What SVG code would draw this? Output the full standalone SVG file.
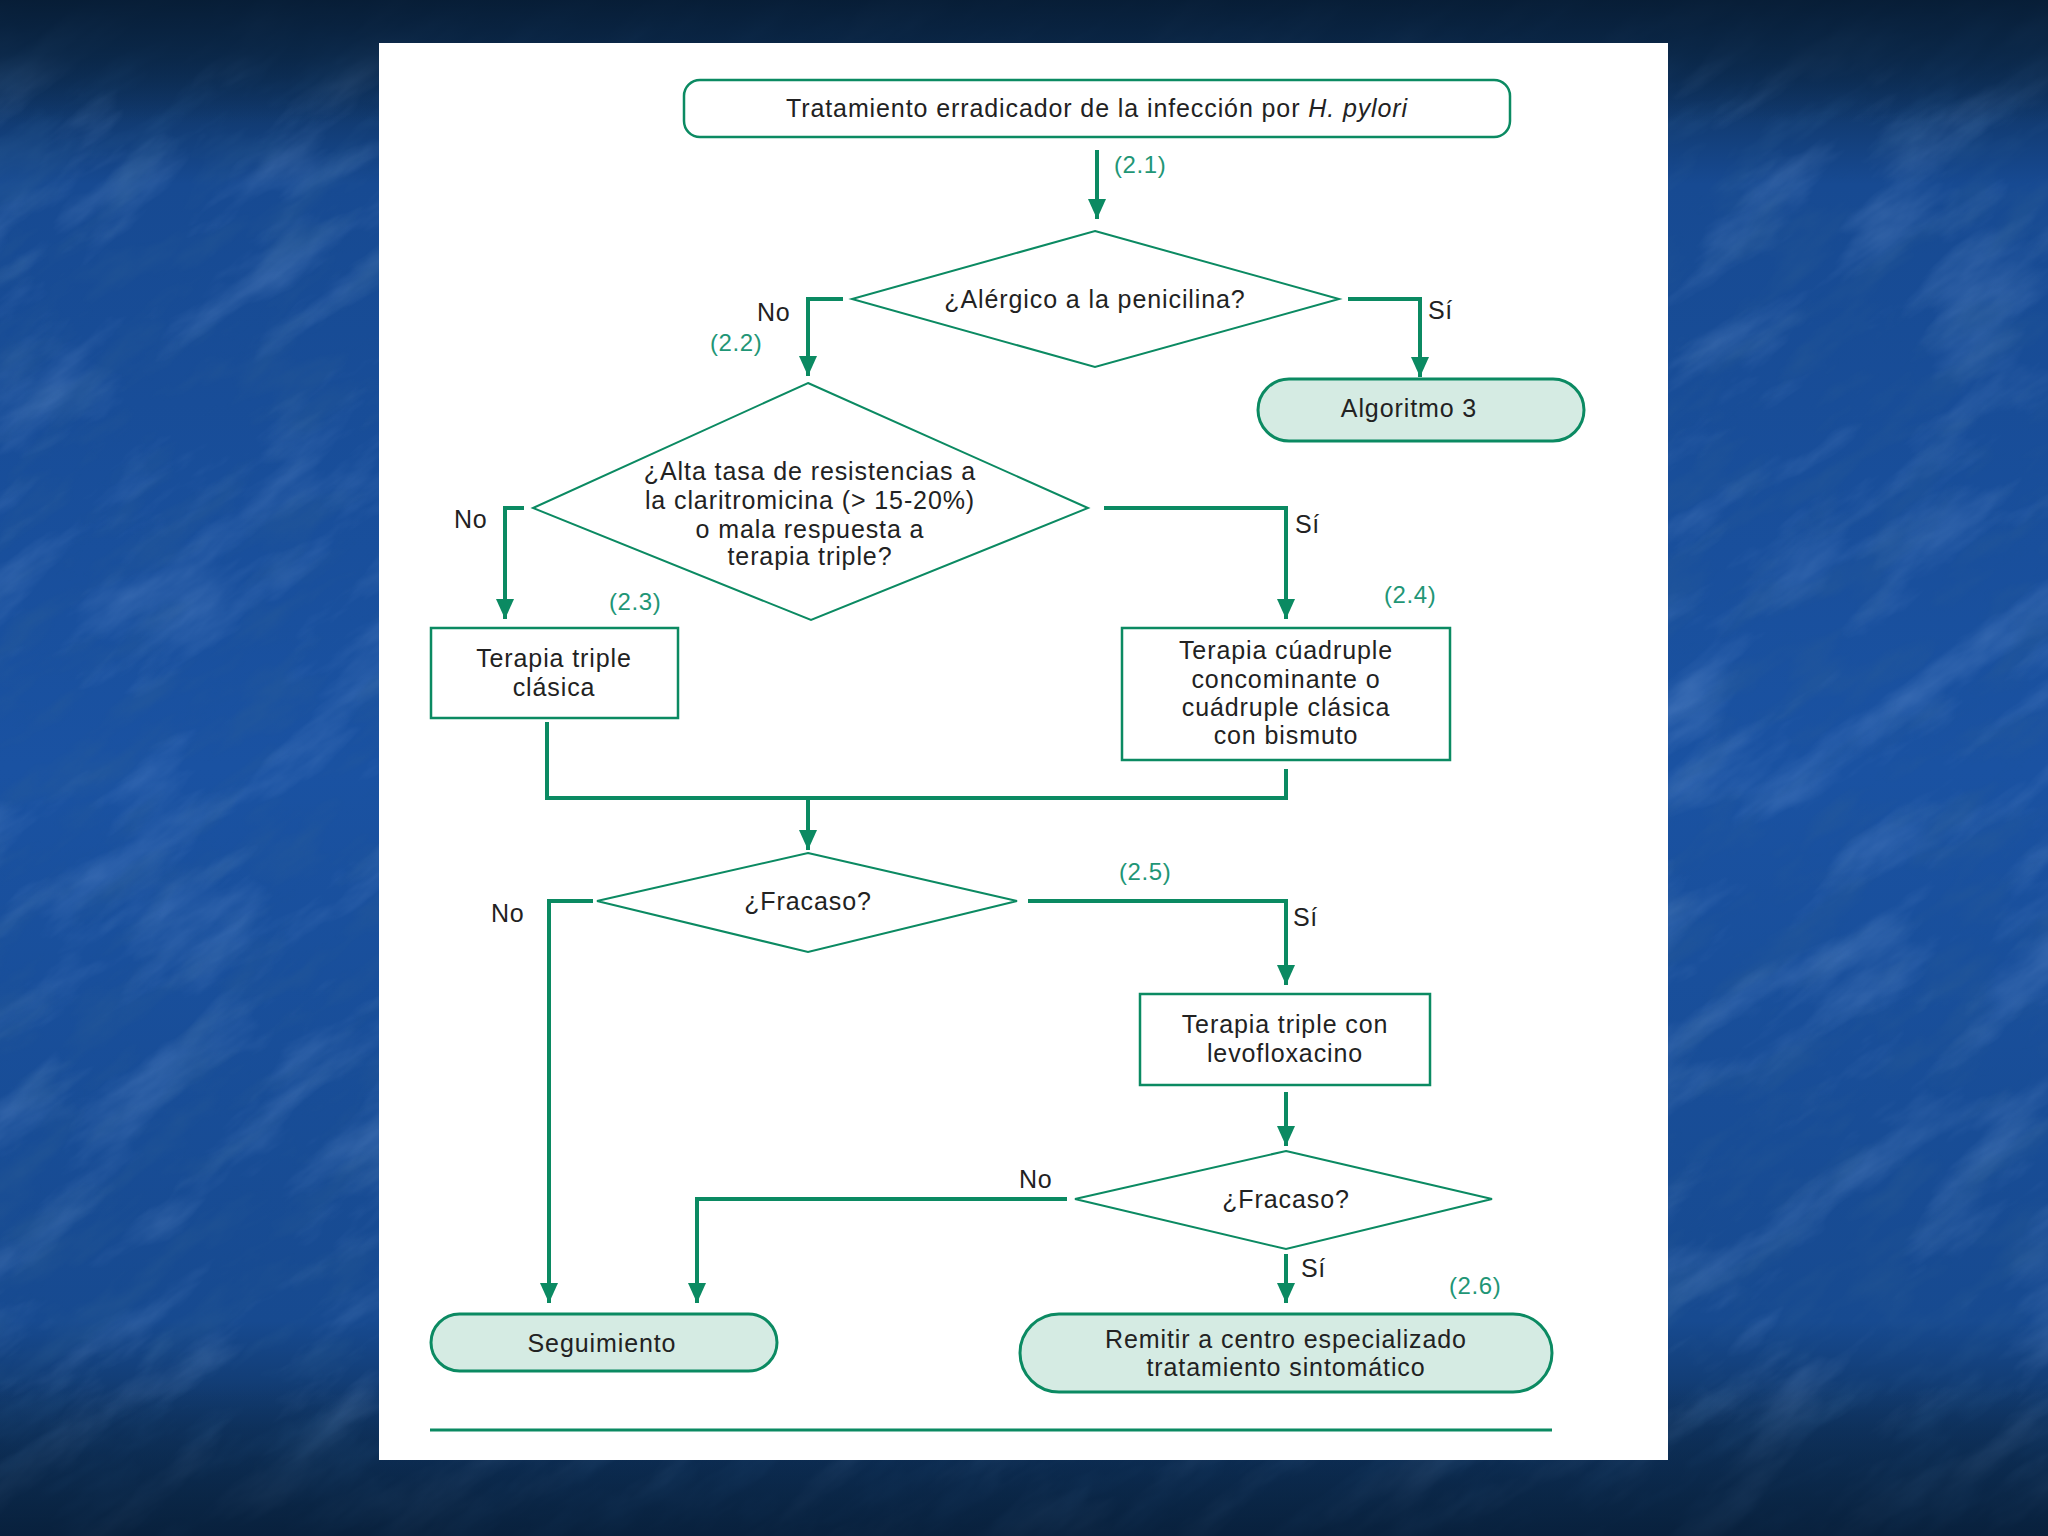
<svg xmlns="http://www.w3.org/2000/svg" width="2048" height="1536" viewBox="0 0 2048 1536">
<defs>
<linearGradient id="bg" x1="0" y1="0" x2="0" y2="1">
<stop offset="0" stop-color="#0a2440"/>
<stop offset="0.035" stop-color="#0c2c52"/>
<stop offset="0.12" stop-color="#174a92"/>
<stop offset="0.5" stop-color="#1a52a2"/>
<stop offset="0.86" stop-color="#174a90"/>
<stop offset="0.93" stop-color="#0f3462"/>
<stop offset="1" stop-color="#0a2646"/>
</linearGradient>
<linearGradient id="shade" x1="0" y1="0" x2="0" y2="1">
<stop offset="0" stop-color="#071d36" stop-opacity="0.95"/>
<stop offset="0.035" stop-color="#0a2646" stop-opacity="0.85"/>
<stop offset="0.08" stop-color="#0c2c52" stop-opacity="0"/>
<stop offset="0.9" stop-color="#0c2c52" stop-opacity="0"/>
<stop offset="0.96" stop-color="#0a2646" stop-opacity="0.6"/>
<stop offset="1" stop-color="#081f3a" stop-opacity="0.8"/>
</linearGradient>
<filter id="tex" x="0" y="0" width="100%" height="100%">
<feTurbulence type="fractalNoise" baseFrequency="0.006 0.02" numOctaves="5" seed="7"/>
<feColorMatrix type="matrix" values="0 0 0 0 0.35  0 0 0 0 0.55  0 0 0 0 0.9  0 0 0 1.6 -0.8"/>
</filter>
<filter id="tex2" x="0" y="0" width="100%" height="100%">
<feTurbulence type="fractalNoise" baseFrequency="0.01 0.03" numOctaves="4" seed="11"/>
<feColorMatrix type="matrix" values="0 0 0 0 0.03  0 0 0 0 0.12  0 0 0 0 0.3  0 0 0 1.6 -0.75"/>
</filter>
<clipPath id="clipAll"><rect width="2048" height="1536"/></clipPath>
<marker id="ah" viewBox="0 0 20 20" refX="20" refY="10" markerWidth="20" markerHeight="20" markerUnits="userSpaceOnUse" orient="auto">
<path d="M0,1 L20,10 L0,19 Z" fill="#0b8a62"/>
</marker>
<style>
.t{font-family:"Liberation Sans",Arial,sans-serif;font-size:25px;letter-spacing:0.9px;fill:#222;text-anchor:middle}
.g{font-family:"Liberation Sans",Arial,sans-serif;font-size:24px;letter-spacing:0.6px;fill:#1f9676}
.l{font-family:"Liberation Sans",Arial,sans-serif;font-size:25px;letter-spacing:0.6px;fill:#222}
.c{fill:none;stroke:#0b8a62;stroke-width:4}
.a{fill:none;stroke:#0b8a62;stroke-width:4;marker-end:url(#ah)}
.d{fill:#fff;stroke:#0b8a62;stroke-width:2}
.b{fill:#fff;stroke:#0b8a62;stroke-width:2.5}
.p{fill:#d5ebe3;stroke:#0b8a62;stroke-width:3}
</style>
</defs>
<rect width="2048" height="1536" fill="url(#bg)"/>
<g clip-path="url(#clipAll)">
<g transform="rotate(-35 1024 768)">
<rect x="-600" y="-600" width="3248" height="2736" filter="url(#tex)" opacity="0.35"/>
<rect x="-600" y="-600" width="3248" height="2736" filter="url(#tex2)" opacity="0.5"/>
</g>
</g>
<rect width="2048" height="1536" fill="url(#shade)"/>
<rect x="379" y="43" width="1289" height="1417" fill="#fff"/>

<g id="connectors">
<path class="a" d="M1097,150 V219"/>
<path class="a" d="M843,299 H808 V376"/>
<path class="a" d="M1348,299 H1420 V377"/>
<path class="a" d="M524,508 H505 V619"/>
<path class="a" d="M1104,508 H1286 V619"/>
<path class="c" d="M547,722 V798 H1286 V769"/>
<path class="a" d="M808,798 V850"/>
<path class="a" d="M593,901 H549 V1303"/>
<path class="a" d="M1028,901 H1286 V985"/>
<path class="a" d="M1286,1092 V1146"/>
<path class="a" d="M1067,1199 H697 V1303"/>
<path class="a" d="M1286,1254 V1303"/>
<path d="M430,1430 H1552" stroke="#0b8a62" stroke-width="3"/>
</g>

<g id="labels">
<text class="g" x="1114" y="173">(2.1)</text>
<text class="l" x="757" y="321">No</text>
<text class="g" x="710" y="351">(2.2)</text>
<text class="l" x="1428" y="319">Sí</text>
<text class="l" x="454" y="528">No</text>
<text class="l" x="1295" y="533">Sí</text>
<text class="g" x="609" y="610">(2.3)</text>
<text class="g" x="1384" y="603">(2.4)</text>
<text class="l" x="491" y="922">No</text>
<text class="l" x="1293" y="926">Sí</text>
<text class="g" x="1119" y="880">(2.5)</text>
<text class="l" x="1019" y="1188">No</text>
<text class="l" x="1301" y="1277">Sí</text>
<text class="g" x="1449" y="1294">(2.6)</text>
</g>

<g id="n1">
<rect class="b" x="684" y="80" width="826" height="57" rx="16"/>
<text class="t" x="1097" y="117">Tratamiento erradicador de la infección por <tspan font-style="italic">H. pylori</tspan></text>
</g>
<g id="n2">
<polygon class="d" points="1095,231 1339,299 1095,367 852,299"/>
<text class="t" x="1095" y="308">¿Alérgico a la penicilina?</text>
</g>
<g id="n3">
<rect class="p" x="1258" y="379" width="326" height="62" rx="31"/>
<text class="t" x="1409" y="417">Algoritmo 3</text>
</g>
<g id="n4">
<polygon class="d" points="808,383 1088,508 811,620 533,508"/>
<text class="t" x="810" y="480">¿Alta tasa de resistencias a</text>
<text class="t" x="810" y="509">la claritromicina (&gt; 15-20%)</text>
<text class="t" x="810" y="538">o mala respuesta a</text>
<text class="t" x="810" y="565">terapia triple?</text>
</g>
<g id="n5">
<rect class="b" x="431" y="628" width="247" height="90"/>
<text class="t" x="554" y="667">Terapia triple</text>
<text class="t" x="554" y="696">clásica</text>
</g>
<g id="n6">
<rect class="b" x="1122" y="628" width="328" height="132"/>
<text class="t" x="1286" y="659">Terapia cúadruple</text>
<text class="t" x="1286" y="688">concominante o</text>
<text class="t" x="1286" y="716">cuádruple clásica</text>
<text class="t" x="1286" y="744">con bismuto</text>
</g>
<g id="n7">
<polygon class="d" points="808,853 1017,901 808,952 597,901"/>
<text class="t" x="808" y="910">¿Fracaso?</text>
</g>
<g id="n8">
<rect class="b" x="1140" y="994" width="290" height="91"/>
<text class="t" x="1285" y="1033">Terapia triple con</text>
<text class="t" x="1285" y="1062">levofloxacino</text>
</g>
<g id="n9">
<polygon class="d" points="1286,1151 1492,1199 1286,1249 1075,1199"/>
<text class="t" x="1286" y="1208">¿Fracaso?</text>
</g>
<g id="n10">
<rect class="p" x="431" y="1314" width="346" height="57" rx="28.5"/>
<text class="t" x="602" y="1352">Seguimiento</text>
</g>
<g id="n11">
<rect class="p" x="1020" y="1314" width="532" height="78" rx="39"/>
<text class="t" x="1286" y="1348">Remitir a centro especializado</text>
<text class="t" x="1286" y="1376">tratamiento sintomático</text>
</g>
</svg>
